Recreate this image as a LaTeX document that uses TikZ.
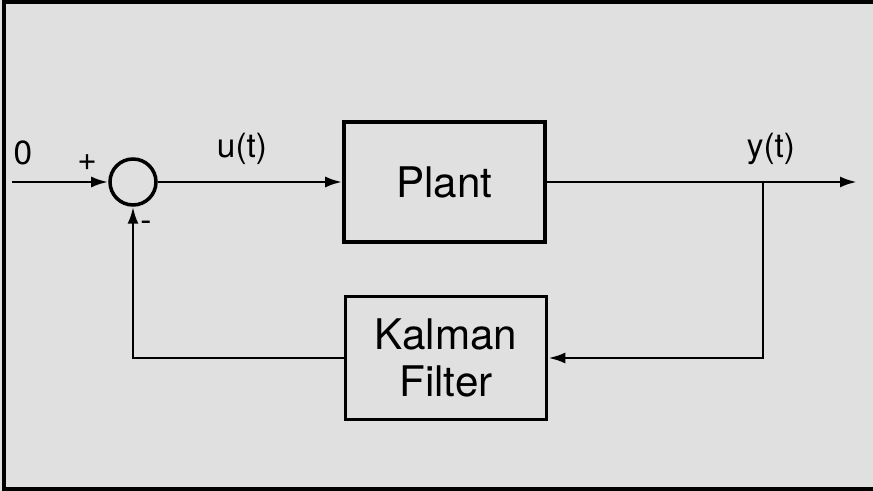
\documentclass[tikz,border=0pt]{standalone}
\usepackage{fontspec}
\setmainfont{TeX Gyre Heros}
\usetikzlibrary{arrows.meta}
\definecolor{scangray}{HTML}{E0E0E0}
\begin{document}
\begin{tikzpicture}[
  block/.style={draw,line width=2pt,minimum width=4.02cm,font=\fontsize{24}{26}\selectfont,align=center},
  sumnode/.style={draw,circle,line width=2pt,minimum size=0.92cm,inner sep=0pt},
  lbl/.style={font=\fontsize{19}{21}\selectfont},
  sig/.style={line width=1.6pt,-{Latex[length=0.34cm,width=0.22cm]}}]
\fill[scangray] (0,0) rectangle (17.46,9.82);
\useasboundingbox (0,0) rectangle (17.46,9.82);
\draw[line width=2pt] (17.46,9.78)--(0.08,9.78)--(0.08,0.04)--(17.46,0.04);
\node[sumnode] (sum) at (2.66,6.18) {};
\node[block,minimum height=2.4cm] (plant) at (8.89,6.18) {Plant};
\node[block,minimum height=2.46cm,font=\fontsize{24}{27}\selectfont] (kalman) at (8.92,2.66) {Kalman\\Filter};
\coordinate (in) at (0.24,6.18);
\coordinate (out) at (17.14,6.18);
\coordinate (branch) at (15.26,6.18);
\draw[sig] (in)--(sum);
\draw[sig] (sum)--(plant);
\draw[sig] (plant)--(out);
\draw[sig] (branch)|-(kalman);
\draw[sig] (kalman)-|(sum);
\node[lbl] (zero) at (0.46,6.76) {0};
\node[lbl] (plus) at (1.74,6.56) {+};
\node[lbl] (minus) at (2.92,5.3) {-};
\node[lbl] (u) at (4.84,6.84) {u(t)};
\node[lbl] (y) at (15.42,6.84) {y(t)};
\end{tikzpicture}
\end{document}
